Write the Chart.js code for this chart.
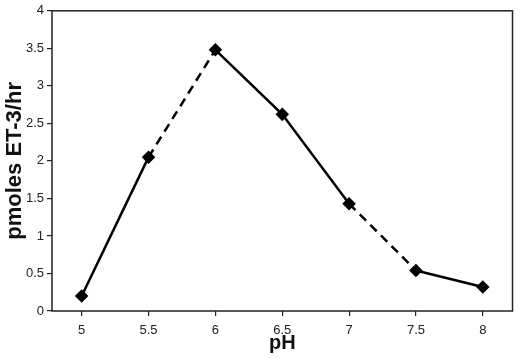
<!DOCTYPE html>
<html>
<head>
<meta charset="utf-8">
<script src="https://cdn.jsdelivr.net/npm/chart.js@4/dist/chart.umd.min.js"></script>
<style>
html,body{margin:0;padding:0;background:#fff;}
#wrap{width:520px;height:358px;position:relative;}
</style>
</head>
<body>
<div id="wrap"><canvas id="c" width="520" height="358"></canvas></div>
<script>
const phValues = [5, 5.5, 6, 6.5, 7, 7.5, 8];
const etRates = [0.2, 2.05, 3.48, 2.62, 1.43, 0.54, 0.32];
const dashedSegments = [1, 4]; // segment start indices drawn dashed
const yTicks = [0, 0.5, 1, 1.5, 2, 2.5, 3, 3.5, 4];

const framePlugin = {
  id: 'frame',
  afterDraw(chart) {
    const a = chart.chartArea, ctx = chart.ctx;
    ctx.save();
    ctx.strokeStyle = '#222';
    ctx.lineWidth = 1.5;
    ctx.strokeRect(a.left, a.top, a.right - a.left, a.bottom - a.top);
    ctx.restore();
  }
};

new Chart(document.getElementById('c'), {
  type: 'line',
  data: {
    datasets: [{
      data: phValues.map((x, i) => ({x: x, y: etRates[i]})),
      borderColor: '#000',
      backgroundColor: '#000',
      borderWidth: 2.5,
      pointStyle: 'rectRot',
      pointRadius: 5,
      pointHoverRadius: 5,
      tension: 0,
      segment: {
        borderDash: ctx => dashedSegments.includes(ctx.p0DataIndex) ? [9, 6] : undefined
      }
    }]
  },
  options: {
    responsive: false,
    animation: false,
    devicePixelRatio: 1,
    layout: {padding: {top: 5, right: 3, left: 0, bottom: 0}},
    plugins: {legend: {display: false}, tooltip: {enabled: false}},
    scales: {
      x: {
        type: 'linear',
        min: 4.778,
        max: 8.222,
        afterFit: s => { s.height = 47; },
        afterBuildTicks: s => { s.ticks = phValues.map(v => ({value: v})); },
        grid: {display: true, drawOnChartArea: false, drawTicks: true, tickLength: 5, color: '#222', lineWidth: 1.2},
        border: {display: false},
        ticks: {
          color: '#222', padding: 7,
          font: {family: 'Liberation Sans, Arial, sans-serif', size: 13},
          callback: v => String(v)
        },
        title: {
          display: true, text: 'pH', color: '#111',
          font: {family: 'Liberation Sans, Arial, sans-serif', size: 20, weight: 'bold'},
          padding: {top: 0, bottom: 3}
        }
      },
      y: {
        type: 'linear',
        min: 0,
        max: 4,
        afterFit: s => { s.width = 52; },
        afterBuildTicks: s => { s.ticks = yTicks.map(v => ({value: v})); },
        grid: {display: true, drawOnChartArea: false, drawTicks: true, tickLength: 5, color: '#222', lineWidth: 1.2},
        border: {display: false},
        ticks: {
          color: '#222', padding: 3,
          font: {family: 'Liberation Sans, Arial, sans-serif', size: 13},
          callback: v => String(v)
        },
        title: {
          display: true, text: 'pmoles ET-3/hr', color: '#111',
          font: {family: 'Liberation Sans, Arial, sans-serif', size: 22, weight: 'bold'},
          padding: {top: 2, bottom: 0}
        }
      }
    }
  },
  plugins: [framePlugin]
});
</script>
</body>
</html>
